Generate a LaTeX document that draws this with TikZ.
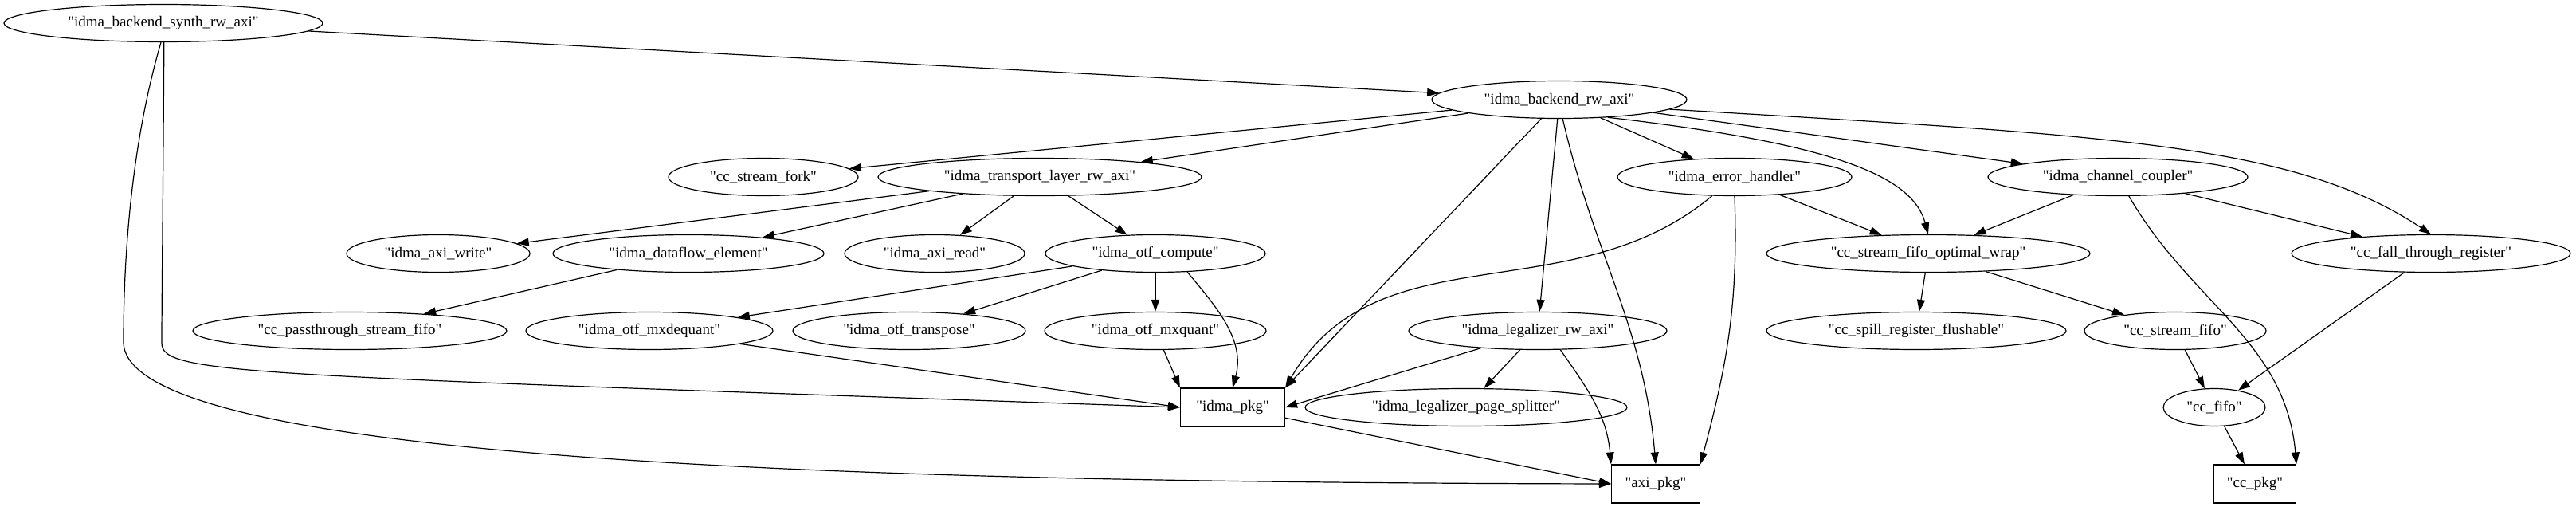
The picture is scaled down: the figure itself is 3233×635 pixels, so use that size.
\documentclass[tikz,border=0pt]{standalone}
\usepackage{fontspec}
\setmainfont{Liberation Serif}[Ligatures=TeXOff]
\usetikzlibrary{shapes.geometric, arrows.meta}
\tikzset{%
    mod/.style={%
        draw, ellipse, inner sep=0pt, line width=1.2pt,
        minimum height=47pt,
        font=\fontsize{19}{22}\selectfont
    },
    pkg/.style={%
        draw, rectangle, inner sep=0pt, line width=1.2pt,
        minimum height=48pt,
        font=\fontsize{19}{22}\selectfont
    },
    dep/.style={%
        draw, line width=1.2pt,
        -{Triangle[length=15pt,width=10pt]}
    }%
}

\begin{document}
\begin{tikzpicture}[x=1pt, y=-1pt]
\useasboundingbox (0,0) rectangle (3233,635);

% modules
\node[mod, minimum width=400pt] (synth)    at (205,29)   {"idma\_backend\_synth\_rw\_axi"};
\node[mod, minimum width=320pt] (backend)  at (1957,125) {"idma\_backend\_rw\_axi"};
\node[mod, minimum width=238pt] (fork)     at (958,222)  {"cc\_stream\_fork"};
\node[mod, minimum width=406pt] (transp)   at (1305,222) {"idma\_transport\_layer\_rw\_axi"};
\node[mod, minimum width=294pt] (errh)     at (2177,222) {"idma\_error\_handler"};
\node[mod, minimum width=326pt] (chcpl)    at (2658,222) {"idma\_channel\_coupler"};
\node[mod, minimum width=230pt] (axiwr)    at (550,318)  {"idma\_axi\_write"};
\node[mod, minimum width=340pt] (dflow)    at (864,318)  {"idma\_dataflow\_element"};
\node[mod, minimum width=226pt] (axird)    at (1173,318) {"idma\_axi\_read"};
\node[mod, minimum width=276pt] (otf)      at (1450,318) {"idma\_otf\_compute"};
\node[mod, minimum width=406pt] (optwrap)  at (2420,318) {"cc\_stream\_fifo\_optimal\_wrap"};
\node[mod, minimum width=350pt] (fallthr)  at (3051,318) {"cc\_fall\_through\_register"};
\node[mod, minimum width=394pt] (passthr)  at (439,415)  {"cc\_passthrough\_stream\_fifo"};
\node[mod, minimum width=310pt] (mxdeq)    at (815,415)  {"idma\_otf\_mxdequant"};
\node[mod, minimum width=292pt] (transpose) at (1141,415) {"idma\_otf\_transpose"};
\node[mod, minimum width=278pt] (mxq)      at (1450,415) {"idma\_otf\_mxquant"};
\node[mod, minimum width=324pt] (legal)    at (1930,415) {"idma\_legalizer\_rw\_axi"};
\node[mod, minimum width=376pt] (spill)    at (2405,415) {"cc\_spill\_register\_flushable"};
\node[mod, minimum width=228pt] (sfifo)    at (2730,415) {"cc\_stream\_fifo"};
\node[mod, minimum width=404pt] (pagesp)   at (1840,511) {"idma\_legalizer\_page\_splitter"};
\node[mod, minimum width=128pt] (ccfifo)   at (2779,511) {"cc\_fifo"};

% packages
\node[pkg, minimum width=131pt] (idmapkg) at (1547,511) {"idma\_pkg"};
\node[pkg, minimum width=111pt] (axipkg)  at (2078,607) {"axi\_pkg"};
\node[pkg, minimum width=103pt] (ccpkg)   at (2830,607) {"cc\_pkg"};

% dependencies
\draw[dep] (synth) -- (backend);
\draw[dep] (synth.272) .. controls (205,200) and (203,380) .. (203,430)
    .. controls (203,470) and (300,470) .. (idmapkg.west);
\draw[dep] (synth.263) .. controls (165,180) and (155,320) .. (155,430)
    .. controls (160,580) and (1100,605) .. (axipkg.west);

\draw[dep] (backend) -- (fork);
\draw[dep] (backend) -- (transp);
\draw[dep] (backend) -- (idmapkg.north east);
\draw[dep] (backend) -- (legal);
\draw[dep] (backend.280) to[out=-77, in=95] (axipkg.north);
\draw[dep] (backend) -- (errh);
\draw[dep] (backend.340) .. controls (2300,180) and (2400,220) .. (optwrap.north);
\draw[dep] (backend) -- (chcpl);
\draw[dep] (backend.-5) .. controls (2650,170) and (2880,180) .. (fallthr.north);

\draw[dep] (transp) -- (axiwr);
\draw[dep] (transp) -- (dflow);
\draw[dep] (transp) -- (axird);
\draw[dep] (transp) -- (otf);
\draw[dep] (dflow) -- (passthr);

\draw[dep] (otf) -- (mxdeq);
\draw[dep] (otf) -- (transpose);
\draw[dep] (otf) -- (mxq);
\draw[dep] (otf.-30) to[out=-50, in=75] (idmapkg.north);
\draw[dep] (mxdeq) -- (idmapkg.west);
\draw[dep] (mxq) -- (idmapkg.north west);

\draw[dep] (errh) to[out=-140, in=60] (idmapkg.north east);
\draw[dep] (errh) -- (optwrap);
\draw[dep] (errh.-90) to[out=-88, in=75] (axipkg.north east);

\draw[dep] (chcpl) -- (optwrap);
\draw[dep] (chcpl) -- (fallthr);
\draw[dep] (chcpl.-60) to[out=-60, in=95] (ccpkg.north east);

\draw[dep] (optwrap) -- (spill);
\draw[dep] (optwrap) -- (sfifo);
\draw[dep] (fallthr) -- (ccfifo);
\draw[dep] (sfifo) -- (ccfifo);
\draw[dep] (ccfifo) -- (ccpkg);

\draw[dep] (legal) -- (idmapkg.east);
\draw[dep] (legal) -- (pagesp);
\draw[dep] (legal.-40) to[out=-55, in=95] (axipkg.north west);
\draw[dep] (idmapkg) -- (axipkg.west);
\end{tikzpicture}
\end{document}
